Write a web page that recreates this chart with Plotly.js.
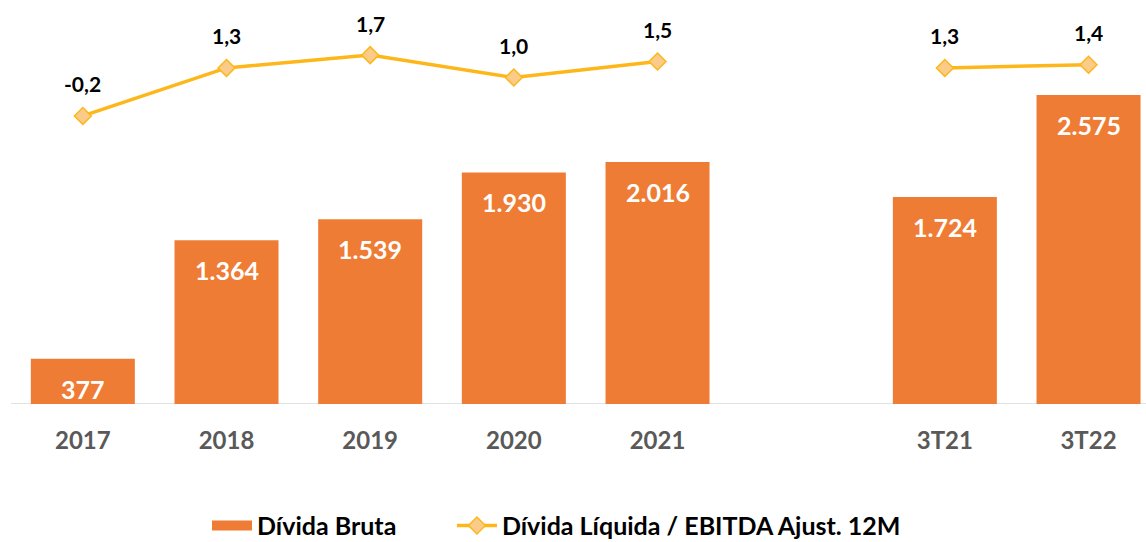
<!DOCTYPE html>
<html>
<head>
<meta charset="utf-8">
<script src="https://cdn.plot.ly/plotly-3.0.1.min.js"></script>
<style>
html,body{margin:0;padding:0;background:#fff;}
#chart{width:1146px;height:542px;}
</style>
</head>
<body>
<div id="chart"></div>
<script>
const categories = ["2017", "2018", "2019", "2020", "2021", " ", "3T21", "3T22"];
const dividaBruta = [377, 1364, 1539, 1930, 2016, null, 1724, 2575];
const dividaLiqEbitda = [-0.2, 1.3, 1.7, 1.0, 1.5, null, 1.3, 1.4];
const seriesNames = ["Dívida Bruta", "Dívida Líquida / EBITDA Ajust. 12M"];

const FONT = "Lato, 'Open Sans', sans-serif";
const BAR_COLOR = "#EF7C34";

function fmtThousands(v) {
  return String(v).replace(/\B(?=(\d{3})+(?!\d))/g, ".");
}
function fmtDec(v) {
  return v.toFixed(1).replace(".", ",");
}

const barTrace = {
  type: "bar",
  name: seriesNames[0],
  x: categories,
  y: dividaBruta,
  marker: { color: BAR_COLOR, line: { width: 0 } },
  showlegend: false,
  cliponaxis: false
};

// legend swatch for the bar series (wide rectangle like the original)
const barLegendTrace = {
  type: "scatter",
  mode: "lines",
  name: seriesNames[0],
  x: [null],
  y: [null],
  line: { color: BAR_COLOR, width: 16 },
  legend: "legend",
  hoverinfo: "skip"
};

const lineTrace = {
  type: "scatter",
  mode: "lines+markers",
  name: seriesNames[1],
  x: categories,
  y: dividaLiqEbitda,
  yaxis: "y2",
  connectgaps: false,
  line: { color: "#FDB71A", width: 3.5 },
  marker: { symbol: "diamond", size: 13, color: "#FBCB8A", line: { color: "#FDB71A", width: 1.5 } },
  legend: "legend2",
  cliponaxis: false
};

const annotations = [];
categories.forEach((c, i) => {
  if (dividaBruta[i] != null) {
    annotations.push({
      x: i, y: dividaBruta[i], xref: "x", yref: "y",
      text: fmtThousands(dividaBruta[i]),
      showarrow: false, yanchor: "middle", yshift: -30,
      font: { family: FONT, size: 25, color: "#FFFFFF", weight: 700 }
    });
  }
  if (dividaLiqEbitda[i] != null) {
    annotations.push({
      x: i, y: dividaLiqEbitda[i], xref: "x", yref: "y2",
      text: fmtDec(dividaLiqEbitda[i]),
      showarrow: false, yanchor: "middle", yshift: 32,
      font: { family: FONT, size: 21, color: "#000000", weight: 700 }
    });
  }
});

const legendCommon = {
  orientation: "h",
  xref: "paper", yref: "container",
  xanchor: "left",
  y: 0.03, yanchor: "middle",
  font: { family: FONT, size: 25, color: "#000000", weight: 700 },
  itemwidth: 40,
  bgcolor: "rgba(0,0,0,0)",
  borderwidth: 0
};

const layout = {
  width: 1146,
  height: 542,
  margin: { l: 11, r: 0, t: 10, b: 138 },
  paper_bgcolor: "#FFFFFF",
  plot_bgcolor: "#FFFFFF",
  showlegend: true,
  bargap: 0.276,
  font: { family: FONT },
  xaxis: {
    type: "category",
    categoryorder: "array",
    categoryarray: categories,
    range: [-0.5, 7.4],
    showgrid: false,
    zeroline: false,
    showline: false,
    ticks: "",
    ticklabelstandoff: 20,
    tickfont: { family: FONT, size: 24, color: "#595959", weight: 700 },
    fixedrange: true
  },
  yaxis: {
    range: [0, 3283],
    visible: false,
    showgrid: false,
    fixedrange: true
  },
  yaxis2: {
    range: [-9.2, 3.11],
    overlaying: "y",
    side: "right",
    visible: false,
    showgrid: false,
    zeroline: false,
    fixedrange: true
  },
  shapes: [{
    type: "line", xref: "paper", yref: "y", x0: 0, x1: 1, y0: 0, y1: 0,
    line: { color: "#D9D9D9", width: 1.5 }, layer: "below"
  }],
  legend: Object.assign({}, legendCommon, { x: 0.1727 }),
  legend2: Object.assign({}, legendCommon, { x: 0.3885 }),
  annotations: annotations
};

Plotly.newPlot("chart", [barTrace, barLegendTrace, lineTrace], layout, { displayModeBar: false, staticPlot: true });
</script>
</body>
</html>
